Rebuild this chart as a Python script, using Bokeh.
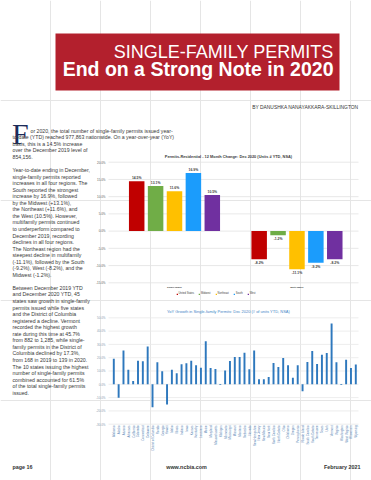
import math
from bokeh.plotting import figure
from bokeh.models import Range1d, ColumnDataSource, Legend, LegendItem
from bokeh.core.properties import value
from bokeh.embed import file_html
from bokeh.resources import INLINE

# ---------------- data ----------------
regions = ["United States", "Midwest", "Northeast", "South", "West"]
groups = ["Single-family", "Multi-family"]
single_family_change = [14.5, 13.1, 11.6, 16.9, 10.5]
multi_family_change = [-8.2, -1.2, -11.1, -9.2, -8.2]
chart1_ticks = [-15, -10, -5, 0, 5, 10, 15, 20]

states = ["Alabama", "Alaska", "Arizona", "Arkansas", "California", "Colorado",
          "Connecticut", "Delaware", "District of Columbia", "Florida", "Georgia",
          "Hawaii", "Idaho", "Illinois", "Indiana", "Iowa", "Kansas", "Kentucky",
          "Louisiana", "Maine", "Maryland", "Massachusetts", "Michigan", "Minnesota",
          "Mississippi", "Missouri", "Montana", "Nebraska", "Nevada", "New Hampshire",
          "New Jersey", "New Mexico", "New York", "North Carolina", "North Dakota",
          "Ohio", "Oklahoma", "Oregon", "Pennsylvania", "Rhode Island",
          "South Carolina", "South Dakota", "Tennessee", "Texas", "Utah", "Vermont",
          "Virginia", "Washington", "West Virginia", "Wisconsin", "Wyoming"]
state_growth = [19.3, -10.2, 25.5, 11.0, 2.5, 17.8, 17.3, 28.5, -17.3, 16.5, 9.8,
                -15.2, 11.0, 8.3, 15.0, 15.8, 17.8, 14.3, 12.5, 32.3, 12.3, 11.5,
                -0.5, 10.3, 17.5, 20.5, 20.5, 23.8, 11.3, 25.5, 3.8, 3.8, 5.5, 16.0,
                13.0, 19.8, 14.3, 5.0, 14.3, -5.3, 16.8, 25.0, 15.3, 22.3, 23.5, 45.7,
                16.5, -0.5, 18.5, 12.3, 14.8]
chart2_ticks = [-30, -20, -10, 0, 10, 20, 30, 40, 50]

title_line1 = "SINGLE-FAMILY PERMITS"
title_line2 = "End on a Strong Note in 2020"
byline = "BY DANUSHKA NANAYAKKARA-SKILLINGTON"
drop_cap = "F"
wide_lines = ["or 2020, the total number of single-family permits issued year-",
              "to-date (YTD) reached 977,863 nationwide. On a year-over-year (YoY)"]
column_lines = [
    "basis, this is a 14.5% increase",
    "over the December 2019 level of",
    "854,156.",
    "",
    "Year-to-date ending in December,",
    "single-family permits reported",
    "increases in all four regions. The",
    "South reported the strongest",
    "increase by 16.9%, followed",
    "by the Midwest (+13.1%),",
    "the Northeast (+11.6%), and",
    "the West (10.5%). However,",
    "multifamily permits continued",
    "to underperform compared to",
    "December 2019, recording",
    "declines in all four regions.",
    "The Northeast region had the",
    "steepest decline in multifamily",
    "(-11.1%), followed by the South",
    "(-9.2%), West (-8.2%), and the",
    "Midwest (-1.2%).",
    "",
    "Between December 2019 YTD",
    "and December 2020 YTD, 45",
    "states saw growth in single-family",
    "permits issued while five states",
    "and the District of Columbia",
    "registered a decline. Vermont",
    "recorded the highest growth",
    "rate during this time at 45.7%",
    "from 882 to 1,285, while single-",
    "family permits in the District of",
    "Columbia declined by 17.3%,",
    "from 168 in 2019 to 139 in 2020.",
    "The 10 states issuing the highest",
    "number of single-family permits",
    "combined accounted for 61.5%",
    "of the total single-family permits",
    "issued.",
]
chart1_title = "Permits-Residential - 12 Month Change: Dec 2020 (Units # YTD, NSA)"
chart2_title = "YoY Growth in Single-family Permits: Dec 2020 (# of units YTD, NSA)"
footer_texts = ["page 16", "www.ncbia.com", "February 2021"]

# ---------------- styles / layout constants (page pixels) ----------------
SANS = value("Liberation Sans")
region_colors = ["#c00000", "#70ad47", "#ffc000", "#1b9cfc", "#7030a0"]
RED = "#b3202d"
BODY = "#3a3a3a"
LINE_STEP = 6.55
W, H = 371, 480
PX0, PY0 = 0, 0                      # page offset of the figure
PX1, PY1 = PX0 + W, PY0 + H

# chart 1 placement
C1_LEFT, C1_RIGHT = 108, 358
C1_TOP, C1_BOT = 161.7, 282.3
C1_FIRST, C1_PITCH, C1_GAP = 136.2, 18.9, 1.48
# chart 2 placement
C2_TOP, C2_BOT = 317.3, 423.7
C2_FIRST, C2_PITCH = 113.3, 4.84


def y_range_for(vmin, vmax, top_px, bot_px):
    ppu = (bot_px - top_px) / (vmax - vmin)
    return Range1d(vmin - (PY1 - bot_px) / ppu, vmax + (top_px - PY0) / ppu)


def x_range_for(first_px, pitch):
    return Range1d(-(first_px - PX0) / pitch, (PX1 - first_px) / pitch)


def Y(v):
    return -v


p = figure(width=W, height=H, x_range=Range1d(PX0, PX1), y_range=Range1d(-PY1, -PY0),
           min_border=0, x_axis_location=None, y_axis_location=None,
           output_backend="svg", toolbar_location=None)
p.outline_line_color = None
p.extra_y_ranges = {
    "c1": y_range_for(chart1_ticks[0], chart1_ticks[-1], C1_TOP, C1_BOT),
    "c2": y_range_for(chart2_ticks[0], chart2_ticks[-1], C2_TOP, C2_BOT),
}
p.extra_x_ranges = {
    "c1x": x_range_for(C1_FIRST, C1_PITCH),
    "c2x": x_range_for(C2_FIRST, C2_PITCH),
}

# ---------------- header ----------------
p.quad(left=[55], right=[339], top=[Y(33)], bottom=[Y(90)], fill_color=RED, line_color=None)
p.text(x=[333], y=[Y(51.6)], text=[title_line1], text_font=SANS,
       text_font_size=value("18px"), text_color="white", text_align="right",
       text_baseline="alphabetic")
p.text(x=[333], y=[Y(68.2)], text=[title_line2], text_font=SANS,
       text_font_size=value("19.5px"), text_font_style="bold", text_color="white",
       text_align="right", text_baseline="alphabetic")
p.text(x=[358], y=[Y(107)], text=[byline], text_font=SANS,
       text_font_size=value("4.9px"), text_color="#333333", text_align="right",
       text_baseline="middle")
p.text(x=[11.5], y=[Y(132.8)], text=[drop_cap], text_font=value("Liberation Serif"),
       text_font_size=value("30px"), text_color="#1c2b5a", text_align="left",
       text_baseline="alphabetic")

# ---------------- body text ----------------
body_x = [30, 12]
body_y = [143.3 - 2 * LINE_STEP, 143.3 - LINE_STEP]
body_t = list(wide_lines)
for i, t in enumerate(column_lines):
    if t:
        body_x.append(12)
        body_y.append(143.3 + LINE_STEP * i)
        body_t.append(t)
p.text(x=body_x, y=[Y(v) for v in body_y], text=body_t, text_font=SANS,
       text_font_size=value("5.2px"), text_color=BODY, text_align="left",
       text_baseline="middle")

# ---------------- chart 1 ----------------
pos1 = [gi * (len(regions) + C1_GAP) + k for gi in range(len(groups)) for k in range(len(regions))]
vals1 = single_family_change + multi_family_change
src1 = ColumnDataSource(dict(
    x=pos1, v=vals1, color=region_colors * 2, region=regions * 2,
    label=[f"{v:.1f}%" for v in vals1],
    off=[-3.2 if v >= 0 else 4.0 for v in vals1]))

p.segment(x0=[C1_LEFT] * len(chart1_ticks), x1=[C1_RIGHT] * len(chart1_ticks),
          y0=chart1_ticks, y1=chart1_ticks, y_range_name="c1",
          line_color="#e2e2e2", line_width=0.8)
p.text(x=[C1_LEFT - 3] * len(chart1_ticks), y=chart1_ticks,
       text=[f"{t:.1f}%" for t in chart1_ticks], y_range_name="c1", text_font=SANS,
       text_font_size=value("3px"), text_color="#595959", text_align="right",
       text_baseline="middle")
bars1 = p.vbar(x="x", top="v", bottom=0, width=0.82, source=src1, fill_color="color",
               line_color=None, x_range_name="c1x", y_range_name="c1")
p.text(x="x", y="v", text="label", y_offset="off", source=src1, text_font=SANS,
       text_font_size=value("3.4px"), text_font_style="bold", text_color="#404040",
       text_align="center", text_baseline="middle", x_range_name="c1x", y_range_name="c1")
grp_centers = [gi * (len(regions) + C1_GAP) + (len(regions) - 1) / 2 for gi in range(len(groups))]
p.text(x=grp_centers, y=[chart1_ticks[0]] * len(groups), text=groups, y_offset=4.8,
       text_font=SANS, text_font_size=value("2.4px"), text_font_style="bold",
       text_color="#404040", text_align="center", text_baseline="middle",
       x_range_name="c1x", y_range_name="c1")
p.text(x=[(C1_LEFT + C1_RIGHT) / 2 - 5], y=[Y(155.5)], text=[chart1_title], text_font=SANS,
       text_font_size=value("3.9px"), text_font_style="bold", text_color="#404040",
       text_align="center", text_baseline="middle")

lg = Legend(items=[LegendItem(label=r, renderers=[bars1], index=i) for i, r in enumerate(regions)],
            orientation="horizontal", location=(175.5 - PX0, PY1 - 295.0),
            glyph_width=2, glyph_height=2, label_text_font="Liberation Sans",
            label_text_font_size="2.6px", label_text_color="#404040", label_standoff=1,
            label_height=3, label_width=1, spacing=4, padding=0, margin=0,
            border_line_color=None, background_fill_alpha=0)
p.add_layout(lg)

# ---------------- chart 2 ----------------
pos2 = list(range(len(states)))
src2 = ColumnDataSource(dict(x=pos2, v=state_growth, name=states))
p.segment(x0=[C1_LEFT] * len(chart2_ticks), x1=[C1_RIGHT] * len(chart2_ticks),
          y0=chart2_ticks, y1=chart2_ticks, y_range_name="c2",
          line_color="#e8e8e8", line_width=0.8)
p.text(x=[C1_LEFT - 3] * len(chart2_ticks), y=chart2_ticks,
       text=[f"{t:.1f}%" for t in chart2_ticks], y_range_name="c2", text_font=SANS,
       text_font_size=value("3px"), text_color="#8a9bb0", text_align="right",
       text_baseline="middle")
p.vbar(x="x", top="v", bottom=0, width=0.4, source=src2, fill_color="#2e78bd",
       line_color=None, x_range_name="c2x", y_range_name="c2")
p.text(x="x", y=chart2_ticks[0], text="name", source=src2,
       angle=math.pi / 2, y_offset=1.3, text_font=SANS, text_font_size=value("2.9px"),
       text_color="#5b87b5", text_align="right", text_baseline="middle",
       x_range_name="c2x", y_range_name="c2")
p.text(x=[228], y=[Y(311)], text=[chart2_title], text_font=SANS,
       text_font_size=value("4px"), text_color="#3f86c6", text_align="center",
       text_baseline="middle")

# ---------------- footer ----------------
for xx, tt, al in zip([12, 186, 360], footer_texts, ["left", "center", "right"]):
    p.text(x=[xx], y=[Y(466.7)], text=[tt], text_font=SANS,
           text_font_size=value("5.4px"), text_font_style="bold", text_color="#333333",
           text_align=al, text_baseline="middle")

open("out.html", "w").write(file_html(p, INLINE))
